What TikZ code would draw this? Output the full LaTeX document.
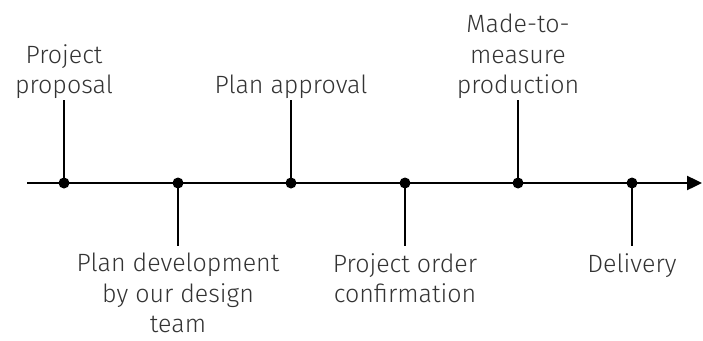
\documentclass[tikz,border=0pt]{standalone}
\usepackage{fontspec}
\setmainfont{Fira Sans}[UprightFont=* Light]
\usetikzlibrary{arrows.meta}
\definecolor{txt}{HTML}{333333}
\begin{document}
\begin{tikzpicture}[x=1pt,y=-1pt,
  lbl/.style={text=txt,font=\fontsize{25}{30.5}\selectfont,align=center,inner sep=0pt},
  dot/.style={circle,fill=black,inner sep=0pt,minimum size=11pt},
  stem/.style={line width=2.4pt}]
\useasboundingbox (0,0) rectangle (703,340);
\coordinate (s) at (27,183);
\coordinate (e) at (702,183);
\draw[line width=2.4pt,-{Triangle[length=15pt,width=14pt]}] (s) -- (e);
\foreach \n/\x in {1/64,2/178,3/291,4/405,5/518,6/632}{
  \node[dot] (d\n) at (\x,183) {};
}
\coordinate (t1) at (64,100);
\coordinate (t3) at (291,100);
\coordinate (t5) at (518,100);
\coordinate (b2) at (178,246);
\coordinate (b4) at (405,246);
\coordinate (b6) at (632,246);
\foreach \n in {1,3,5}{\draw[stem] (d\n.center) -- (t\n);}
\foreach \n in {2,4,6}{\draw[stem] (d\n.center) -- (b\n);}
\node[lbl,anchor=south] (l1) at (64,99) {Project\\proposal};
\node[lbl,anchor=south] (l3) at (291,99) {Plan approval};
\node[lbl,anchor=south] (l5) at (518,99) {Made-to-\\measure\\production};
\node[lbl,anchor=north] (l2) at (178,253) {Plan development\\by our design\\team};
\node[lbl,anchor=north] (l4) at (405,253) {Project order\\confirmation};
\node[lbl,anchor=north] (l6) at (632,253) {Delivery};
\end{tikzpicture}
\end{document}
